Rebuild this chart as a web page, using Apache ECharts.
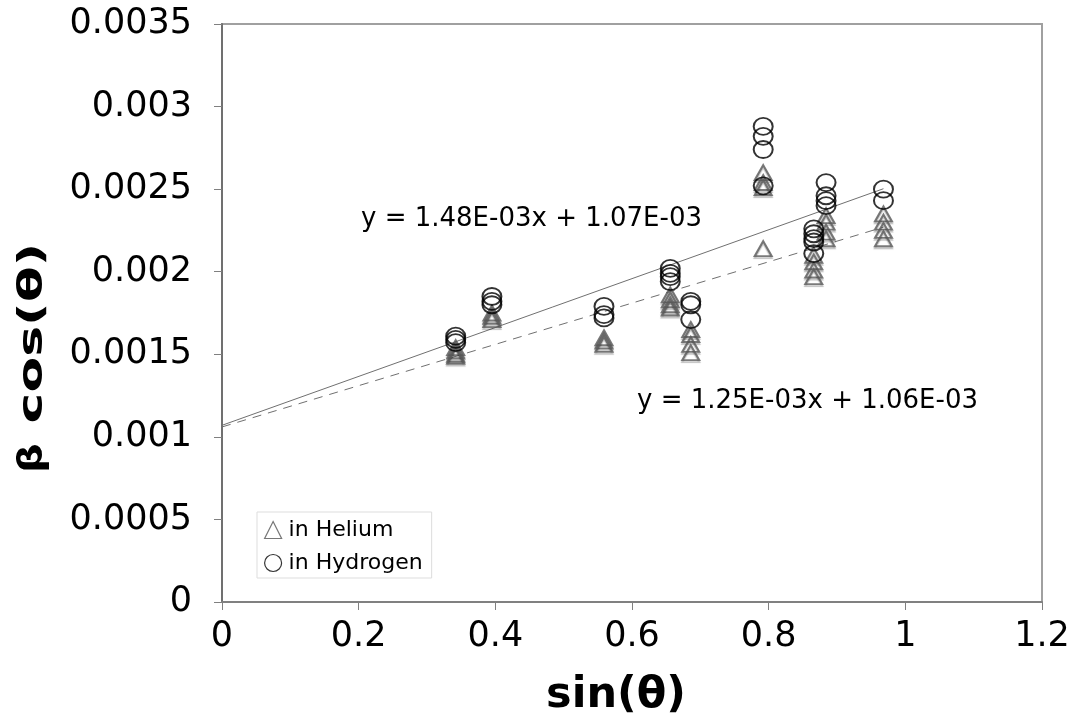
<!DOCTYPE html>
<html><head><meta charset="utf-8">
<script src="https://cdn.jsdelivr.net/npm/echarts@6/dist/echarts.min.js"></script>
<style>html,body{margin:0;padding:0;background:#fff}#c{width:1076px;height:719px}</style>
</head><body><div id="c"></div>
<script>
// x positions (sin θ) of each reflection
const heliumX = [0.342,0.342,0.342,0.342, 0.395,0.395,0.395, 0.559,0.559,0.559, 0.656,0.656,0.656,0.656, 0.686,0.686,0.686,0.686, 0.792,0.792,0.792,0.792, 0.866,0.866,0.866,0.866, 0.884,0.884,0.884,0.884, 0.968,0.968,0.968,0.968];
const heliumY = [0.00154,0.00152,0.00150,0.00149, 0.00175,0.00173,0.00171, 0.00160,0.00158,0.00156, 0.00186,0.00183,0.00180,0.00178, 0.00165,0.00162,0.00156,0.00151, 0.00260,0.00254,0.00251,0.00214, 0.00210,0.00206,0.00201,0.00197, 0.00234,0.00230,0.00224,0.00220, 0.00235,0.00230,0.00225,0.00220];
const hydrogenX = [0.342,0.342,0.342, 0.395,0.395,0.395, 0.559,0.559,0.559, 0.656,0.656,0.656,0.656, 0.686,0.686,0.686, 0.792,0.792,0.792,0.792, 0.866,0.866,0.866,0.866,0.866, 0.884,0.884,0.884,0.884, 0.968,0.968];
const hydrogenY = [0.00161,0.00159,0.00157, 0.00185,0.00182,0.00180, 0.00179,0.00174,0.00172, 0.00202,0.00199,0.00197,0.00194, 0.00182,0.00180,0.00171, 0.00288,0.00282,0.00274,0.00252, 0.00226,0.00223,0.00220,0.00218,0.00211, 0.00254,0.00246,0.00243,0.00240, 0.00250,0.00243];
// trend lines: slope, intercept
const hydrogenFit = {slope:1.48e-3, intercept:1.07e-3, label:'y = 1.48E-03x + 1.07E-03'};
const heliumFit = {slope:1.25e-3, intercept:1.06e-3, label:'y = 1.25E-03x + 1.06E-03'};
const fitX = [0, 0.968];
const xTitle = 'sin(θ)';
const yTitleSymbol = 'β';
const yTitleText = 'cos(θ)';

const zip = (a,b)=>a.map((v,i)=>[v,b[i]]);
const fitLine = f => fitX.map(x=>[x, f.intercept + f.slope*x]);

const chart = echarts.init(document.getElementById('c'));
const font = 'DejaVu Sans';
chart.setOption({
  animation:false,
  grid:{left:222,right:34,top:24,bottom:117,show:true,borderColor:'#a0a0a0',borderWidth:2,backgroundColor:'#fff'},
  xAxis:{type:'value',min:0,max:1.2,interval:0.2,
    axisLine:{show:true,lineStyle:{color:'#808080',width:2}},
    axisTick:{show:true,length:8,lineStyle:{color:'#808080',width:1}},
    splitLine:{show:false},
    axisLabel:{fontFamily:font,fontSize:35,color:'#000',margin:17,formatter:v=>String(parseFloat(v.toFixed(2)))}
  },
  yAxis:{type:'value',min:0,max:0.0035,interval:0.0005,
    axisLine:{show:true,lineStyle:{color:'#707070',width:2}},
    axisTick:{show:true,length:8,lineStyle:{color:'#808080',width:1}},
    splitLine:{show:false},
    axisLabel:{fontFamily:font,fontSize:35,color:'#000',margin:30,formatter:v=>String(parseFloat(v.toFixed(4)))}
  },
  legend:{orient:'vertical',left:257,top:512,padding:[7,9,4,7],itemGap:11,
    backgroundColor:'#fff',borderColor:'#dddddd',borderWidth:1,
    itemWidth:17,itemHeight:17,
    textStyle:{fontFamily:font,fontSize:22,color:'#000',padding:[0,0,0,2]},
    data:[{name:'in Helium',icon:'triangle',itemStyle:{color:'#fff',borderColor:'#555',borderWidth:1.2}},
          {name:'in Hydrogen',icon:'circle',itemStyle:{color:'#fff',borderColor:'#000',borderWidth:1.2}}]
  },
  series:[
    {name:'in Helium',type:'scatter',symbol:'triangle',symbolSize:[17,15],data:zip(heliumX,heliumY),
     itemStyle:{color:'rgba(255,255,255,0)',borderColor:'#5a5a5a',borderWidth:2,shadowColor:'rgba(0,0,0,0.3)',shadowOffsetY:2,shadowBlur:1},z:3},
    {name:'in Hydrogen',type:'scatter',symbol:'circle',symbolSize:[19,17],data:zip(hydrogenX,hydrogenY),
     itemStyle:{color:'rgba(255,255,255,0)',borderColor:'#000',borderWidth:1.9},z:4},
    {name:'fitH',type:'line',data:fitLine(hydrogenFit),symbol:'none',silent:true,
     lineStyle:{color:'#707070',width:1,type:'solid'},z:2},
    {name:'fitHe',type:'line',data:fitLine(heliumFit),symbol:'none',silent:true,
     lineStyle:{color:'#707070',width:1,type:[9,7]},z:2}
  ],
  graphic:[
    {type:'text',left:361,top:206,style:{text:hydrogenFit.label,fontFamily:font,fontSize:26,fill:'#000'}},
    {type:'text',left:637,top:388,style:{text:heliumFit.label,fontFamily:font,fontSize:26,fill:'#000'}},
    {type:'text',x:616,y:696,style:{text:xTitle,fontFamily:font,fontSize:43,fontWeight:'bold',fill:'#000',align:'center',verticalAlign:'middle'}},
    {type:'text',x:33,y:458,rotation:Math.PI/2,scaleX:1.1,scaleY:0.9,style:{text:yTitleSymbol,fontFamily:font,fontSize:38,fontWeight:'bold',fill:'#000',align:'center',verticalAlign:'middle'}},
    {type:'text',x:33,y:333,rotation:Math.PI/2,scaleX:1.3,scaleY:0.85,style:{text:yTitleText,fontFamily:font,fontSize:40,fontWeight:'bold',fill:'#000',align:'center',verticalAlign:'middle'}}
  ]
});
</script></body></html>
